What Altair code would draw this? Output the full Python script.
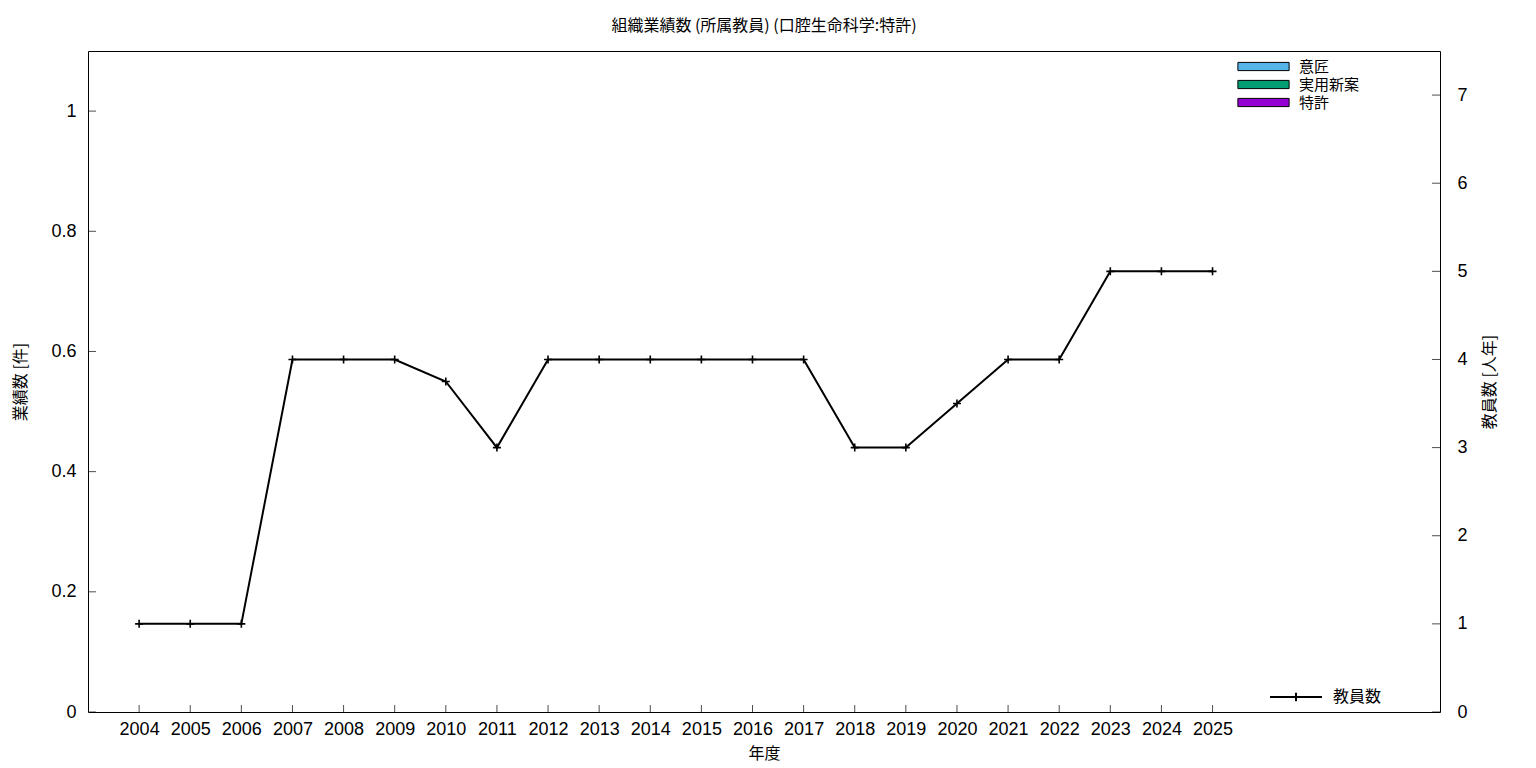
import altair as alt
import pandas as pd

# ---- data ----
years = [2004, 2005, 2006, 2007, 2008, 2009, 2010, 2011, 2012, 2013, 2014,
         2015, 2016, 2017, 2018, 2019, 2020, 2021, 2022, 2023, 2024, 2025]
teachers = [1, 1, 1, 4, 4, 4, 3.75, 3, 4, 4, 4,
            4, 4, 4, 3, 3, 3.5, 4, 4, 5, 5, 5]
design = [0, 0, 0, 0, 0, 0, 0, 0, 0, 0, 0, 0, 0, 0, 0, 0, 0, 0, 0, 0, 0, 0]
utility = [0, 0, 0, 0, 0, 0, 0, 0, 0, 0, 0, 0, 0, 0, 0, 0, 0, 0, 0, 0, 0, 0]
patent = [0, 0, 0, 0, 0, 0, 0, 0, 0, 0, 0, 0, 0, 0, 0, 0, 0, 0, 0, 0, 0, 0]
bar_types = ["意匠", "実用新案", "特許"]
bar_colors = ["#56B4E9", "#009E73", "#9400D3"]
left_ticks = [0, 0.2, 0.4, 0.6, 0.8, 1.0]
right_ticks = [0, 1, 2, 3, 4, 5, 6, 7]
line_name = "教員数"
title_text = "組織業績数 (所属教員) (口腔生命科学:特許)"

CJK = "Noto Sans CJK JP"
NUM = "Liberation Sans"

bars_df = pd.DataFrame({
    "year": years * 3,
    "type": [bar_types[0]] * len(years) + [bar_types[1]] * len(years) + [bar_types[2]] * len(years),
    "count": design + utility + patent,
})
line_df = pd.DataFrame({"year": years, "teachers": teachers, "series": [line_name] * len(years)})
xt_df = pd.DataFrame({"year": years})
lt_df = pd.DataFrame({"count": left_ticks})
rt_df = pd.DataFrame({"teachers": right_ticks})

x_scale = alt.Scale(domain=[2003, 2029.45], nice=False, zero=False, padding=0)
x_axis = alt.Axis(values=years, format="d", title="年度", labelPadding=8, titlePadding=7)
x_enc = alt.X("year:Q", scale=x_scale, axis=x_axis)

left_scale = alt.Scale(domain=[0, 1.1], nice=False, padding=0)
left_axis = alt.Axis(orient="left", values=left_ticks, format="~g", title="業績数 [件]",
                     labelPadding=12, titlePadding=22)
right_scale = alt.Scale(domain=[0, 7.5], nice=False, padding=0)
right_axis = alt.Axis(orient="right", values=right_ticks, format="d", title="教員数 [人年]",
                      labelPadding=17, titlePadding=30, titleAngle=270)

bars = alt.Chart(bars_df).mark_bar(size=20).encode(
    x=x_enc,
    y=alt.Y("count:Q", scale=left_scale, axis=left_axis, stack=True),
    fill=alt.Fill("type:N", scale=alt.Scale(domain=bar_types, range=bar_colors),
                  legend=alt.Legend(title=None, orient="none", legendX=1168, legendY=8,
                                    direction="vertical",
                                    symbolType="M-4,-0.64H4V0.64H-4Z", symbolSize=164,
                                    symbolStrokeColor="black", symbolStrokeWidth=1,
                                    symbolOpacity=1, labelFont=CJK, labelFontSize=15,
                                    labelColor="black", labelOffset=28, padding=0,
                                    rowPadding=2)),
)

xticks = alt.Chart(xt_df).mark_tick(orient="vertical", size=14, thickness=1,
                                    color="black", clip=True).encode(
    x=x_enc,
    y=alt.datum(0),
)
lticks = alt.Chart(lt_df).mark_tick(orient="horizontal", size=16, thickness=1,
                                    color="black", clip=True).encode(
    x=alt.datum(2003),
    y=alt.Y("count:Q", scale=left_scale, axis=left_axis),
)
left_layer = alt.layer(bars, xticks, lticks)

line = alt.Chart(line_df).mark_line(strokeWidth=2).encode(
    x=x_enc,
    y=alt.Y("teachers:Q", scale=right_scale, axis=right_axis),
    stroke=alt.Stroke("series:N", scale=alt.Scale(domain=[line_name], range=["black"]),
                      legend=alt.Legend(title=None, orient="none", legendX=1200, legendY=638,
                                        symbolType="M-4,0H4M0,-0.64V0.64", symbolSize=169,
                                        symbolStrokeWidth=2, labelFont=CJK, labelFontSize=16,
                                        labelColor="black", labelOffset=29, padding=0)),
)
points = alt.Chart(line_df).mark_point(shape="M-1,0H1M0,-1V1", size=64, filled=False,
                                       strokeWidth=1.6, color="black", opacity=1).encode(
    x=x_enc,
    y=alt.Y("teachers:Q", scale=right_scale, axis=right_axis),
)
rticks = alt.Chart(rt_df).mark_tick(orient="horizontal", size=16, thickness=1,
                                    color="black", clip=True).encode(
    x=alt.datum(2029.45),
    y=alt.Y("teachers:Q", scale=right_scale, axis=right_axis),
)
right_layer = alt.layer(line, points, rticks)

chart = alt.layer(left_layer, right_layer).resolve_scale(
    y="independent", fill="independent", stroke="independent"
).properties(
    width=1352, height=661,
    background="white",
    autosize=alt.AutoSizeParams(type="none"),
    padding={"left": 80, "top": 43, "right": 80, "bottom": 50},
    title=alt.Title(title_text, font=CJK, fontSize=16, fontWeight="normal", color="black",
                    anchor="middle", offset=17),
).configure_view(
    stroke="black", strokeWidth=1
).configure_axis(
    domain=False, ticks=False, grid=False,
    labelFont=NUM, labelFontSize=18, labelColor="black",
    titleFont=CJK, titleFontSize=16, titleFontWeight="normal", titleColor="black",
)

chart.save("out.html", embed_options={"renderer": "svg", "actions": False})
